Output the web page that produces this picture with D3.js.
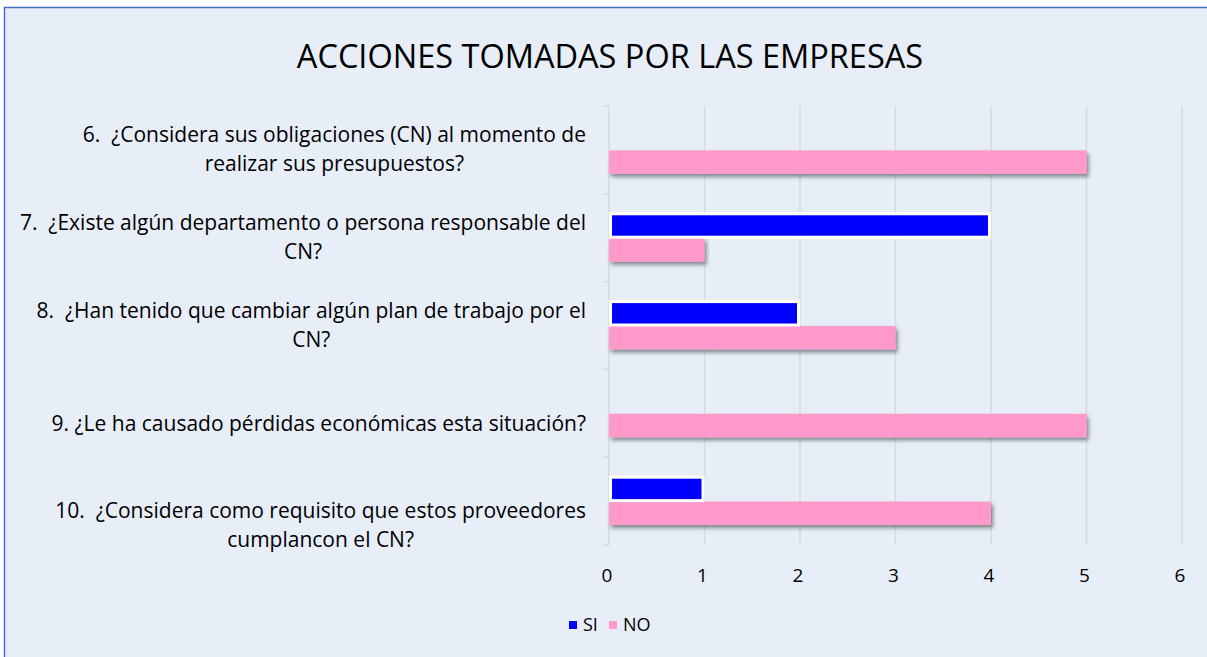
<!DOCTYPE html>
<html>
<head>
<meta charset="utf-8">
<script src="https://cdn.jsdelivr.net/npm/d3@7"></script>
<style>
  body { margin: 0; background: #fff; }
  text { font-family: "Open Sans", "Noto Sans", sans-serif; fill: #000; white-space: pre; }
</style>
</head>
<body>
<div id="chart"></div>
<script>
const questions = [
    ["6.  ¿Considera sus obligaciones (CN) al momento de", "realizar sus presupuestos?"],
    ["7.  ¿Existe algún departamento o persona responsable del", "CN?"],
    ["8.  ¿Han tenido que cambiar algún plan de trabajo por el", "CN?"],
    ["9. ¿Le ha causado pérdidas económicas esta situación?"],
    ["10.  ¿Considera como requisito que estos proveedores", "cumplancon el CN?"]
];
const seriesNames = ["SI", "NO"];
const siValues = [0, 4, 2, 0, 1];
const noValues = [5, 1, 3, 5, 4];
const xTicks = [0, 1, 2, 3, 4, 5, 6];
const colors = { SI: "#0000FF", NO: "#FF99CC" };

const width = 1207, height = 657;
const svg = d3.select("#chart").append("svg").attr("width", width).attr("height", height);

const defs = svg.append("defs");
const f = defs.append("filter").attr("id", "shadow").attr("x", "-5%").attr("y", "-50%").attr("width", "110%").attr("height", "220%");
f.append("feDropShadow").attr("dx", 2).attr("dy", 3).attr("stdDeviation", 2)
    .attr("flood-color", "#000").attr("flood-opacity", 0.45);

// chart area background + border
svg.append("rect").attr("x", 4.5).attr("y", 7.5).attr("width", width + 10).attr("height", height + 10)
    .attr("fill", "#E7EEF8").attr("stroke", "#4472C4").attr("stroke-width", 1.5);

svg.append("text").attr("x", 610).attr("y", 68).attr("text-anchor", "middle")
    .style("font-size", "32.5px").text("ACCIONES TOMADAS POR LAS EMPRESAS");

const plotL = 609, plotR = 1182, plotT = 106, plotB = 545;
const x = d3.scaleLinear().domain([0, 6]).range([plotL, plotR]);
const idx = d3.range(questions.length);
const y = d3.scaleBand().domain(idx).range([plotT, plotB]);
const ySub = d3.scaleBand().domain(seriesNames).range([20, y.bandwidth() - 20]).paddingInner(0.04);

// gridlines
svg.append("g").selectAll("line").data(xTicks.slice(1)).join("line")
    .attr("x1", d => x(d)).attr("x2", d => x(d))
    .attr("y1", plotT).attr("y2", plotB)
    .attr("stroke", "#D9D9D9").attr("stroke-width", 1.5);

// x tick labels
svg.append("g").selectAll("text").data(xTicks).join("text")
    .attr("x", d => x(d) - 2).attr("y", 582).attr("text-anchor", "middle")
    .style("font-size", "19px").text(d => d);

// y axis line with category ticks
const yAxis = svg.append("g");
yAxis.append("line").attr("x1", plotL).attr("x2", plotL).attr("y1", plotT).attr("y2", plotB)
    .attr("stroke", "#D9D9D9").attr("stroke-width", 1.5);
yAxis.selectAll("line.tick").data(idx.concat([questions.length])).join("line").attr("class", "tick")
    .attr("x1", plotL - 6).attr("x2", plotL)
    .attr("y1", d => d < questions.length ? y(d) : plotB)
    .attr("y2", d => d < questions.length ? y(d) : plotB)
    .attr("stroke", "#D9D9D9").attr("stroke-width", 1.5);

// bars
const rows = idx.map(i => ({ i, SI: siValues[i], NO: noValues[i] }));
const groups = svg.append("g").selectAll("g").data(rows).join("g")
    .attr("transform", d => `translate(0,${y(d.i)})`);

groups.append("rect")
    .attr("x", plotL).attr("y", ySub("NO"))
    .attr("width", d => x(d.NO) - plotL).attr("height", ySub.bandwidth())
    .attr("fill", colors.NO).attr("filter", "url(#shadow)");

groups.filter(d => d.SI > 0).append("rect")
    .attr("x", plotL + 1.5).attr("y", ySub("SI"))
    .attr("width", d => x(d.SI) - plotL - 3).attr("height", ySub.bandwidth())
    .attr("fill", colors.SI).attr("stroke", "#fff").attr("stroke-width", 3);

// category labels: block right-aligned, lines centred within block
// (the lower labels sit a little below their band, as in the original layout)
const labelNudge = [0, 0, 0, 11, 24];
const labels = svg.append("g");
questions.forEach((lines, i) => {
    const g = labels.append("g");
    const lh = 29;
    const cy = y(i) + y.bandwidth() / 2 + labelNudge[i];
    const texts = lines.map((ln, k) => g.append("text")
        .attr("y", cy + (k - (lines.length - 1) / 2) * lh + 7)
        .attr("text-anchor", "middle")
        .style("font-size", "21px").text(ln));
    const w = d3.max(texts, t => t.node().getComputedTextLength());
    texts.forEach(t => t.attr("x", 586 - w / 2));
});

// legend
const legend = svg.append("g").attr("transform", "translate(569,621)");
seriesNames.forEach((s, k) => {
    const lg = legend.append("g").attr("transform", `translate(${k * 40},0)`);
    lg.append("rect").attr("width", 8).attr("height", 8).attr("fill", colors[s]);
    lg.append("text").attr("x", 14).attr("y", 10).style("font-size", "18px").text(s);
});
</script>
</body>
</html>
